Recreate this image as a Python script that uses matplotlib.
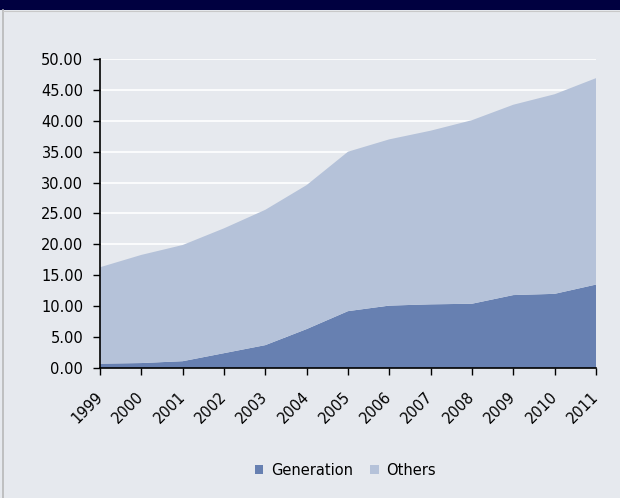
import numpy as np
import matplotlib.pyplot as plt
from matplotlib.patches import Rectangle
from matplotlib.transforms import ScaledTranslation

years = [1999, 2000, 2001, 2002, 2003, 2004, 2005, 2006, 2007, 2008, 2009, 2010, 2011]
generation = [0.7, 0.8, 1.1, 2.4, 3.7, 6.3, 9.2, 10.1, 10.3, 10.4, 11.8, 12.0, 13.5]
total = [16.3, 18.3, 19.9, 22.6, 25.6, 29.6, 35.0, 37.0, 38.4, 40.1, 42.6, 44.3, 46.9]
others = [t - g for t, g in zip(total, generation)]
tick_labels = [str(y) for y in years]

bg = '#e6e9ee'
c_gen = '#6780b1'
c_oth = '#b5c2d9'

plt.rcParams['font.family'] = 'DejaVu Sans'
plt.rcParams['font.size'] = 10.5

fig = plt.figure(figsize=(6.2, 4.98), dpi=100, facecolor=bg)

# dark header strip and left frame line
fig.patches.append(Rectangle((0, 1 - 10/498), 1, 10/498, transform=fig.transFigure,
                             facecolor='#000040', edgecolor='none', zorder=0))
fig.add_artist(plt.Line2D([3/620, 3/620], [0, 1 - 10/498], transform=fig.transFigure,
                          color='#b8b8b8', lw=1.2))
fig.add_artist(plt.Line2D([3/620, 1], [1 - 11/498, 1 - 11/498], transform=fig.transFigure,
                          color='#c8c8c8', lw=0.8))

ax = fig.add_axes([100/620, 1 - 368/498, 496/620, 309/498])
ax.set_facecolor(bg)

ax.stackplot(years, generation, others, labels=['Generation', 'Others'],
             colors=[c_gen, c_oth], linewidth=0, zorder=2)

ax.set_xlim(years[0], years[-1])
ax.set_ylim(0, 50)
ax.set_yticks(np.arange(0, 51, 5))
ax.set_yticklabels(['%.2f' % v for v in np.arange(0, 51, 5)])
ax.set_xticks(years)
ax.set_xticklabels(tick_labels, rotation=45, ha='right', va='center', rotation_mode='anchor')

# nudge the slanted year labels a little to the left of their ticks
shift = ScaledTranslation(-5/100, 0, fig.dpi_scale_trans)
for lbl in ax.get_xticklabels():
    lbl.set_transform(lbl.get_transform() + shift)

ax.grid(axis='y', color='white', lw=1.2, zorder=1)
ax.set_axisbelow(True)
for s in ['top', 'right']:
    ax.spines[s].set_visible(False)
for s in ['left', 'bottom']:
    ax.spines[s].set_color('black')
    ax.spines[s].set_linewidth(1.2)
    ax.spines[s].set_zorder(3)
ax.tick_params(axis='both', direction='out', length=5, width=1, color='black')
ax.tick_params(axis='y', pad=7)
ax.tick_params(axis='x', pad=14)

handles, labels = ax.get_legend_handles_labels()
fig.legend(handles, labels, loc='center', bbox_to_anchor=(0.557, 0.056), ncol=2,
           frameon=False, handlelength=0.6, handleheight=0.6, handletextpad=0.5,
           columnspacing=1.2)

plt.savefig('out.png', dpi=100, facecolor=bg)
